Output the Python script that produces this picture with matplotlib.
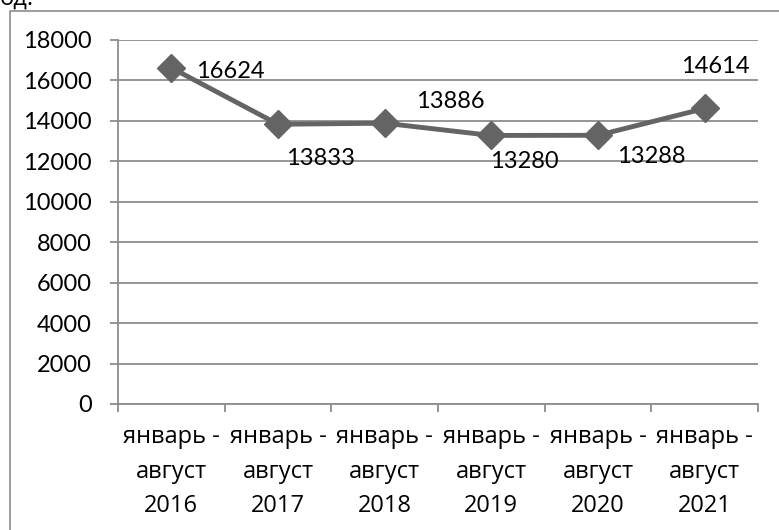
import matplotlib
matplotlib.use('Agg')
import matplotlib.pyplot as plt
from matplotlib.lines import Line2D

plt.rcParams['font.family'] = ['Lato', 'Open Sans', 'DejaVu Sans']

# данные
years = ['2016', '2017', '2018', '2019', '2020', '2021']
values = [16624, 13833, 13886, 13280, 13288, 14614]
cat_labels = ['январь -\nавгуст\n' + y for y in years]
y_ticks = list(range(0, 18001, 2000))

# смещения подписей (px: вправо, вниз до базовой линии)
lbl_dx = [59, 43, 66, 33, 53, 11]
lbl_dy = [10, 41, -15, 33, 28, -35]

W, H = 779, 530
fig = plt.figure(figsize=(W / 100, H / 100), dpi=100)
ax = fig.add_axes([118 / W, (H - 404) / H, (758 - 118) / W, (404 - 40) / H])

grey = '#646464'
axis_grey = '#8c8c8c'
fs = 17

x = list(range(len(values)))
ax.plot(x, values, color=grey, lw=3.5, marker='D', ms=14, mec=grey, mfc=grey,
        zorder=3, clip_on=False)

for xi, v, dx, dy in zip(x, values, lbl_dx, lbl_dy):
    ax.annotate(str(v), (xi, v), xytext=(dx * 0.72, -dy * 0.72), textcoords='offset points',
                ha='center', va='baseline', fontsize=fs, color='black', zorder=4)

ax.set_xlim(-0.5, len(values) - 0.5)
ax.set_ylim(0, 18000)
ax.set_yticks(y_ticks)
ax.set_yticklabels([str(t) for t in y_ticks], fontsize=fs)
ax.yaxis.grid(True, color=axis_grey, lw=1.3)
ax.set_axisbelow(True)
ax.tick_params(axis='y', length=6, width=1.3, color=axis_grey, pad=13)

ax.set_xticks([i - 0.5 for i in range(len(values) + 1)])
ax.set_xticklabels([])
ax.set_xticks(x, minor=True)
ax.set_xticklabels(cat_labels, minor=True, fontsize=fs, linespacing=1.6,
                   family=['Open Sans', 'DejaVu Sans'])
ax.tick_params(axis='x', which='major', length=6, width=1.3, color=axis_grey)
ax.tick_params(axis='x', which='minor', length=0, pad=15)

for s in ['top', 'right']:
    ax.spines[s].set_visible(False)
for s in ['left', 'bottom']:
    ax.spines[s].set_color(axis_grey)
    ax.spines[s].set_linewidth(1.3)

# рамка вокруг диаграммы
fig.add_artist(Line2D([9.5 / W, 9.5 / W, 1.0], [0, 1 - 11 / H, 1 - 11 / H],
                      transform=fig.transFigure, color='#8c8c8c', lw=1.2))
fig.text(0.0, 1 - 5 / H, 'од.', fontsize=fs, ha='left', va='baseline',
         family=['Open Sans', 'DejaVu Sans'])

fig.savefig('out.png', dpi=100)
